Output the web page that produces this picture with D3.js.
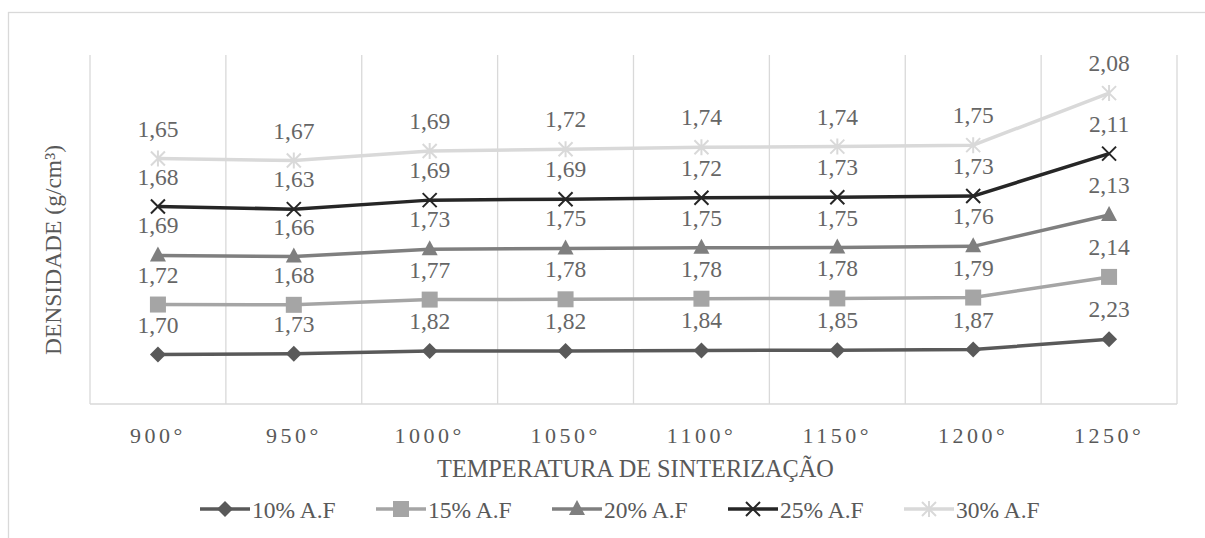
<!DOCTYPE html>
<html><head><meta charset="utf-8">
<script src="https://cdn.jsdelivr.net/npm/d3@7"></script>
<style>body{margin:0;background:#fff}svg{display:block}</style>
</head><body>
<script>
const categories = ["900°","950°","1000°","1050°","1100°","1150°","1200°","1250°"];
const s10 = [1.70,1.73,1.82,1.82,1.84,1.85,1.87,2.23];
const s15 = [1.72,1.68,1.77,1.78,1.78,1.78,1.79,2.14];
const s20 = [1.69,1.66,1.73,1.75,1.75,1.75,1.76,2.13];
const s25 = [1.68,1.63,1.69,1.69,1.72,1.73,1.73,2.11];
const s30 = [1.65,1.67,1.69,1.72,1.74,1.74,1.75,2.08];
const seriesNames = ["10% A.F","15% A.F","20% A.F","25% A.F","30% A.F"];
const yTitle = "DENSIDADE (g/cm³)";
const xTitle = "TEMPERATURA DE SINTERIZAÇÃO";

const W=1205,H=538;
const svg=d3.select("body").append("svg").attr("width",W).attr("height",H);
const font="'Liberation Serif','Times New Roman',serif";
const fs=23.5;
svg.append("rect").attr("x",8.5).attr("y",12.5).attr("width",1300).attr("height",600)
  .attr("fill","#fff").attr("stroke","#d9d9d9").attr("stroke-width",1.3);

const m={l:90,r:1177,t:55,b:404};
const x=d3.scaleBand().domain(categories).range([m.l,m.r]).padding(0);
const y=d3.scaleLinear().domain([0,12]).range([m.b,m.t]);

// gridlines (category boundaries)
const bounds=d3.range(categories.length+1).map(i=>m.l+i*x.bandwidth());
svg.append("g").selectAll("line").data(bounds).join("line")
  .attr("x1",d=>d).attr("x2",d=>d).attr("y1",m.t).attr("y2",m.b)
  .attr("stroke","#d9d9d9").attr("stroke-width",1.3);
svg.append("line").attr("x1",m.l).attr("x2",m.r).attr("y1",m.b).attr("y2",m.b)
  .attr("stroke","#d9d9d9").attr("stroke-width",1.3);

// x axis labels via axis
const xa=svg.append("g").attr("transform",`translate(0,${m.b})`)
  .call(d3.axisBottom(x).tickSize(0).tickPadding(0));
xa.select(".domain").remove();
xa.selectAll("text").attr("y",39).attr("dy",null).attr("font-family",font)
  .attr("font-size",22).attr("fill","#595959").attr("letter-spacing","3.5px");

svg.append("text").attr("x",(m.l+m.r)/2+2).attr("y",477).attr("text-anchor","middle")
  .attr("font-family",font).attr("font-size",24.3).attr("fill","#595959").text(xTitle);
svg.append("text").attr("transform",`translate(61,250) rotate(-90)`)
  .attr("text-anchor","middle").attr("font-family",font).attr("font-size",fs)
  .attr("fill","#595959").text(yTitle);

const data=[s10,s15,s20,s25,s30];
const colors=["#595959","#a5a5a5","#7f7f7f","#262626","#d9d9d9"];
const shapes=["diamond","square","triangle","x","star"];
// stacked cumulative
const cum=[];
data.forEach((s,i)=>{cum.push(s.map((v,j)=>v+(i?cum[i-1][j]:0)));});

function marker(g,shape,color,cx,cy){
  if(shape==="diamond"){
    g.append("path").attr("d",`M${cx},${cy-8}L${cx+8},${cy}L${cx},${cy+8}L${cx-8},${cy}Z`).attr("fill",color);
  } else if(shape==="square"){
    g.append("rect").attr("x",cx-8).attr("y",cy-8).attr("width",16).attr("height",16).attr("fill",color);
  } else if(shape==="triangle"){
    g.append("path").attr("d",`M${cx},${cy-9}L${cx+8},${cy+6}L${cx-8},${cy+6}Z`).attr("fill",color);
  } else if(shape==="x"){
    g.append("path").attr("d",`M${cx-7},${cy-7}L${cx+7},${cy+7}M${cx+7},${cy-7}L${cx-7},${cy+7}`)
      .attr("stroke",color).attr("stroke-width",2);
  } else {
    g.append("path").attr("d",`M${cx-7},${cy-7}L${cx+7},${cy+7}M${cx+7},${cy-7}L${cx-7},${cy+7}M${cx},${cy-8}L${cx},${cy+8}`)
      .attr("stroke",color).attr("stroke-width",2);
  }
}

const line=d3.line().x((d,j)=>x(categories[j])+x.bandwidth()/2).y(d=>y(d));
cum.forEach((c,i)=>{
  const g=svg.append("g");
  g.append("path").datum(c).attr("d",line).attr("fill","none")
    .attr("stroke",colors[i]).attr("stroke-width",3.5).attr("stroke-linejoin","round");
  c.forEach((v,j)=>{
    const cx=x(categories[j])+x.bandwidth()/2, cy=y(v);
    marker(g,shapes[i],colors[i],cx,cy);
  });
});
// labels
cum.forEach((c,i)=>{
  c.forEach((v,j)=>{
    const cx=x(categories[j])+x.bandwidth()/2, cy=y(v);
    svg.append("text").attr("x",cx).attr("y",cy-22).attr("text-anchor","middle")
      .attr("font-family",font).attr("font-size",fs).attr("fill","#666666")
      .text(data[i][j].toFixed(2).replace(".",","));
  });
});

// legend
const lg=svg.append("g");
seriesNames.forEach((n,i)=>{
  const x0=200+i*176, yy=509;
  lg.append("line").attr("x1",x0).attr("x2",x0+50).attr("y1",yy).attr("y2",yy)
    .attr("stroke",colors[i]).attr("stroke-width",3.5);
  marker(lg,shapes[i],colors[i],x0+25,yy);
  lg.append("text").attr("x",x0+52).attr("y",518).attr("font-family",font)
    .attr("font-size",fs).attr("fill","#595959").text(n);
});
</script>
</body></html>
